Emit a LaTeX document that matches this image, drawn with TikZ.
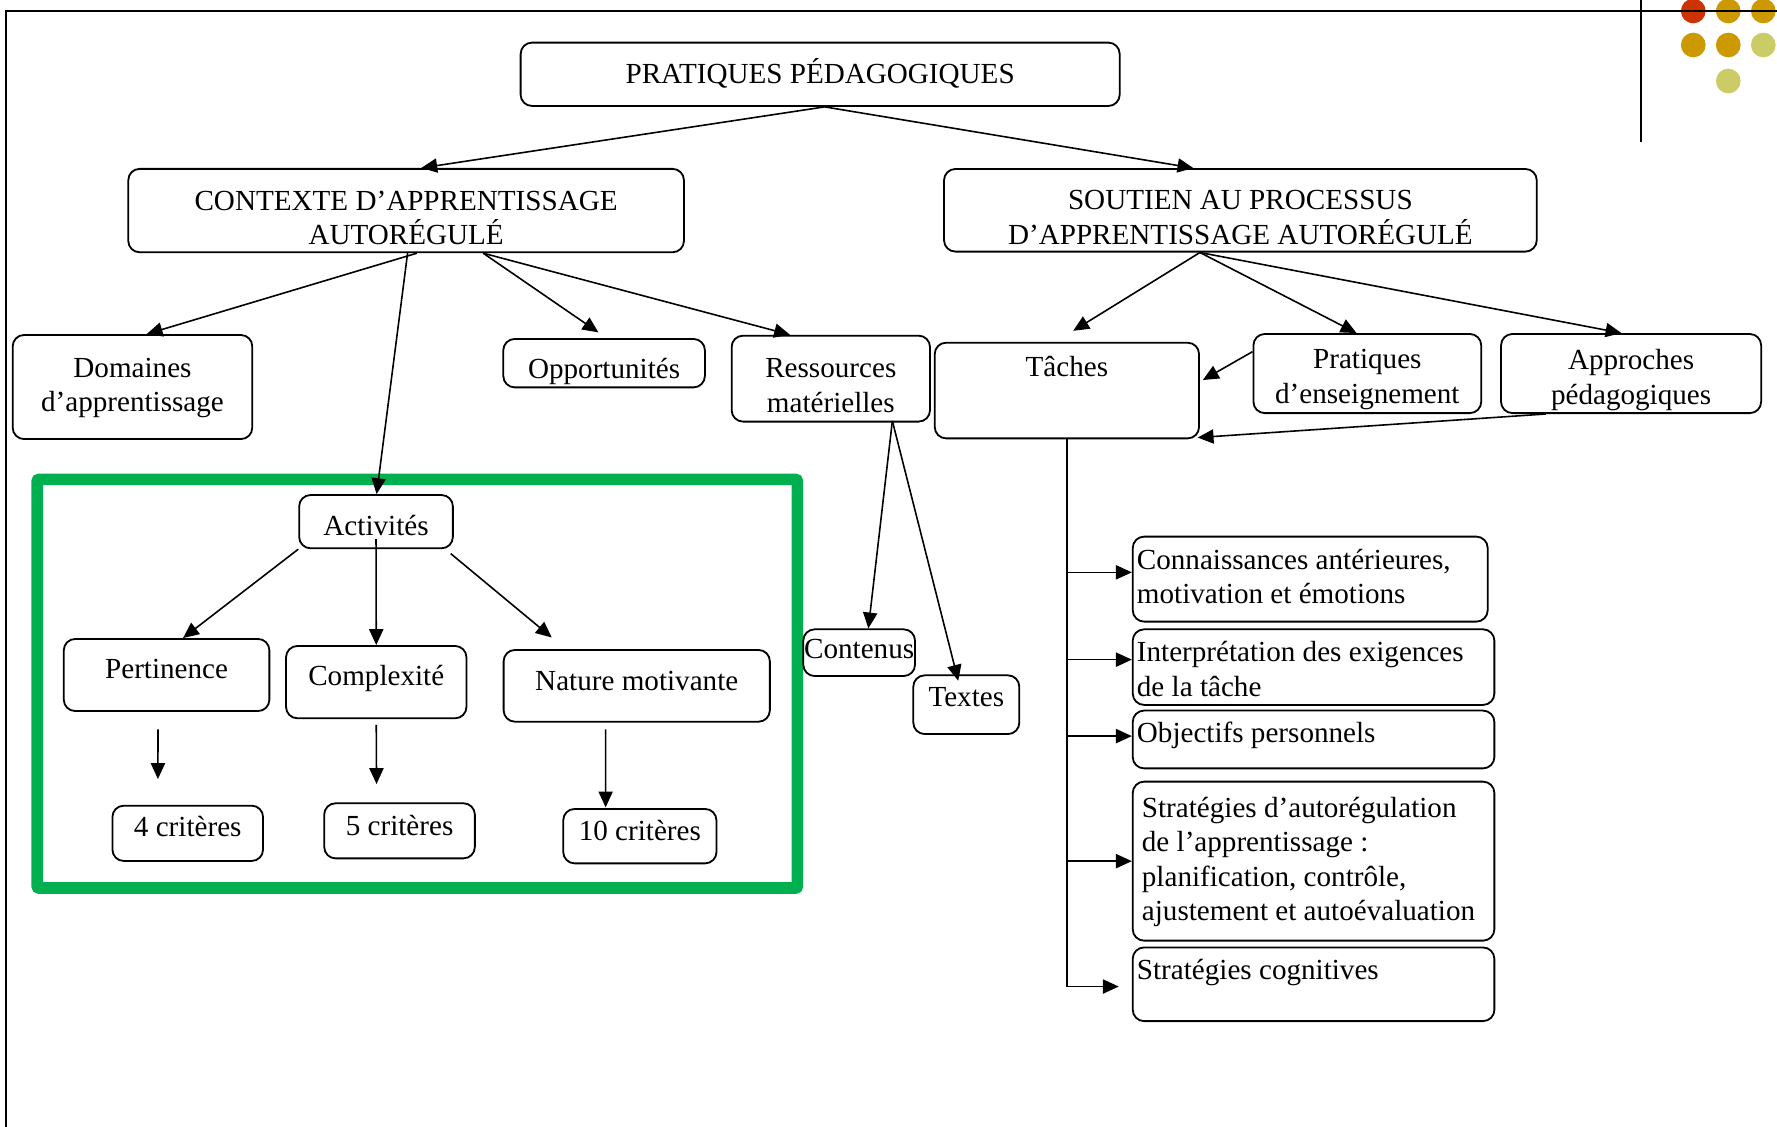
\documentclass[tikz,border=0pt]{standalone}
\usepackage{fontspec}
\setmainfont{Liberation Serif}
\usetikzlibrary{arrows.meta,calc}
\definecolor{dred}{HTML}{CC3300}
\definecolor{dorange}{HTML}{CC9900}
\definecolor{dlight}{HTML}{CCCC66}
\definecolor{gframe}{HTML}{00B050}
\newcommand{\myfs}{\fontsize{25.7}{30.5}\selectfont}
\begin{document}
\begin{tikzpicture}[x=1pt,y=-1pt,
  bx/.style={draw, line width=1.6pt, rounded corners=10pt, inner sep=0pt},
  tx/.style={inner sep=0pt, font=\myfs, align=center},
  txt/.style={inner sep=0pt, font=\myfs, align=left, anchor=north west},
  arr/.style={line width=1.4pt, -{Triangle[length=14pt,width=12.5pt]}},
  ln/.style={line width=1.8pt},
  dot/.style={circle, inner sep=0pt, minimum size=21.8pt}]

\useasboundingbox[fill=white] (0,0) rectangle (1568,994);

% decorative dots
\node[dot, fill=dred]    (d1) at (1494.1,9.7) {};
\node[dot, fill=dorange] (d2) at (1525,9.7) {};
\node[dot, fill=dorange] (d3) at (1555.9,9.7) {};
\node[dot, fill=dorange] (d4) at (1494.1,39.7) {};
\node[dot, fill=dorange] (d5) at (1525,39.7) {};
\node[dot, fill=dlight]  (d6) at (1555.9,39.7) {};
\node[dot, fill=dlight]  (d7) at (1525,71.5) {};

% page frame lines
\draw[ln] (5,994) -- (5,9.7) -- (1568,9.7);
\draw[ln] (1448,0) -- (1448,125);

% green frame
\draw[gframe, line width=10.3pt, rounded corners=2pt] (32.8,423) rectangle (703.6,783.6);

% boxes
\node[bx, minimum width=528.6pt, minimum height=55.9pt] (prat) at (723.7,65.55) {};
\node[bx, minimum width=490.3pt, minimum height=73.6pt] (ctx) at (358.35,185.8) {};
\node[bx, minimum width=523pt, minimum height=72.9pt] (sout) at (1094.5,185.55) {};
\node[bx, minimum width=211.4pt, minimum height=91.8pt] (dom) at (116.9,341.5) {};
\node[bx, minimum width=177.9pt, minimum height=42.7pt] (opp) at (533.05,320.45) {};
\node[bx, minimum width=175pt, minimum height=75.8pt] (res) at (733.1,334.1) {};
\node[bx, minimum width=233.2pt, minimum height=84.4pt] (tac) at (941.4,344.6) {};
\node[bx, minimum width=201pt, minimum height=69.8pt] (pra) at (1206.5,329.6) {};
\node[bx, minimum width=229.5pt, minimum height=69.8pt] (app) at (1439.25,329.6) {};

\node[bx, minimum width=135.6pt, minimum height=47pt] (act) at (331.8,460.3) {};
\node[bx, minimum width=181.4pt, minimum height=63.6pt] (per) at (147,595.6) {};
\node[bx, minimum width=159.2pt, minimum height=63.8pt] (cpx) at (332,601.9) {};
\node[bx, minimum width=234.9pt, minimum height=63.3pt] (nat) at (561.85,605.15) {};
\node[bx, minimum width=132.9pt, minimum height=48.8pt] (c4) at (165.65,735.3) {};
\node[bx, minimum width=132.9pt, minimum height=48.6pt] (c5) at (352.55,733.1) {};
\node[bx, minimum width=135.2pt, minimum height=48pt] (c10) at (564.6,737.8) {};

\node[bx, minimum width=98.6pt, minimum height=41.2pt] (cont) at (758.1,575.9) {};
\node[bx, minimum width=93.5pt, minimum height=51.8pt] (tex) at (852.65,621.8) {};

\node[bx, minimum width=313.2pt, minimum height=75pt] (conn) at (1156.1,511) {};
\node[bx, minimum width=319.1pt, minimum height=66.7pt] (intp) at (1159.05,588.65) {};
\node[bx, minimum width=319.1pt, minimum height=51pt] (obj) at (1159.05,652.5) {};
\node[bx, minimum width=319.1pt, minimum height=140.3pt] (strt) at (1159.05,759.85) {};
\node[bx, minimum width=319.1pt, minimum height=65pt] (cog) at (1159.05,868.5) {};

% texts
\node[tx] (pratt) at ([yshift=0.5pt]prat.center) {PRATIQUES PÉDAGOGIQUES};
\node[tx] (ctxt) at ([yshift=-6.5pt]ctx.center) {CONTEXTE D’APPRENTISSAGE\\AUTORÉGULÉ};
\node[tx] (soutt) at ([yshift=-6.5pt]sout.center) {SOUTIEN AU PROCESSUS\\D’APPRENTISSAGE AUTORÉGULÉ};
\node[tx] (domt) at ([yshift=-1pt]dom.center) {Domaines\\d’apprentissage};
\node[tx] (oppt) at ([yshift=-7pt]opp.center) {Opportunités};
\node[tx] (rest) at ([yshift=-6pt]res.center) {Ressources\\matérielles};
\node[tx, anchor=base] (tact) at (941.4,332) {Tâches};
\node[tx] (prat2) at ([yshift=-5.5pt]pra.center) {Pratiques\\d’enseignement};
\node[tx] (appt) at ([yshift=-5.5pt]app.center) {Approches\\pédagogiques};
\node[tx] (actt) at ([yshift=-3pt]act.center) {Activités};
\node[tx] (pert) at ([yshift=5pt]per.center) {Pertinence};
\node[tx] (cpxt) at ([yshift=3pt]cpx.center) {Complexité};
\node[tx] (natt) at ([yshift=4pt]nat.center) {Nature motivante};
\node[tx] (c4t) at ([yshift=6pt]c4.center) {4 critères};
\node[tx] (c5t) at ([yshift=5pt]c5.center) {5 critères};
\node[tx] (c10t) at ([yshift=5pt]c10.center) {10 critères};
\node[tx] (contt) at ([yshift=3pt]cont.center) {Contenus};
\node[tx] (text) at ([yshift=7pt]tex.center) {Textes};

\node[txt] (connt) at (1003,480.85) {\strut Connaissances antérieures,\\motivation et émotions};
\node[txt] (intpt) at (1003,562.15) {\strut Interprétation des exigences\\de la tâche};
\node[txt] (objt) at (1003,633.25) {\strut Objectifs personnels};
\node[txt] (strtt) at (1007.4,699.55) {\strut Stratégies d’autorégulation\\de l’apprentissage :\\planification, contrôle,\\ajustement et autoévaluation};
\node[txt] (cogt) at (1003,842.65) {\strut Stratégies cognitives};

% connectors
\draw[arr] ([xshift=4pt]prat.south) -- ([xshift=13.4pt]ctx.north);
\draw[arr] ([xshift=4pt]prat.south) -- ([xshift=-41.5pt]sout.north);

\draw[arr] ([xshift=9.5pt]ctx.south) -- ([xshift=12.5pt]dom.north);
\draw[arr] ([xshift=1.3pt]ctx.south) -- ([xshift=0.5pt]act.north);
\draw[arr] ([xshift=68pt]ctx.south) -- ([xshift=-5pt,yshift=5pt]opp.north);
\draw[arr] ([xshift=68pt]ctx.south) -- ([xshift=-36pt]res.north);

\draw[arr] ([xshift=-35.7pt]sout.south) -- ([xshift=5.6pt,yshift=9.7pt]tac.north);
\draw[arr] ([xshift=-35.7pt]sout.south) -- ([xshift=-9.5pt]pra.north);
\draw[arr] ([xshift=-35.7pt]sout.south) -- ([xshift=-8.5pt]app.north);
\draw[arr] ([yshift=19.3pt]pra.west) -- ([xshift=2.6pt,yshift=9.3pt]tac.east);
\draw[arr] ([xshift=-75.3pt]app.south) -- ([xshift=-2pt,yshift=1.5pt]tac.south east);

\draw[arr] ([xshift=54.3pt,yshift=1.4pt]res.south) -- ([xshift=8.1pt]cont.north);
\draw[arr] ([xshift=54.3pt,yshift=1.4pt]res.south) -- ([xshift=-7.1pt,yshift=-5.6pt]tex.north);

\draw[arr] (act.south west) -- ([xshift=14.5pt]per.north);
\draw[arr] ([yshift=9pt]act.south) -- (cpx.north);
\draw[arr] ([xshift=-2.7pt,yshift=-3.9pt]act.south east) -- ([xshift=-75pt,yshift=10.2pt]nat.north);

\coordinate (p4a) at ([xshift=-7.6pt,yshift=-15.3pt]per.south);
\coordinate (p4b) at ([xshift=-26.3pt,yshift=22.7pt]c4.north);
\draw[arr] (p4a) -- (p4b);
\coordinate (p5a) at ([yshift=-5pt]cpx.south);
\coordinate (p5b) at ([xshift=-20.3pt,yshift=16.2pt]c5.north);
\draw[arr] (p5a) -- (p5b);
\draw[arr] ([xshift=-27.5pt,yshift=-5.9pt]nat.south) -- ([xshift=-30.2pt,yshift=0.6pt]c10.north);

% right-hand trunk
\coordinate (cogin) at ([xshift=-11.5pt,yshift=-2pt]cog.west);
\draw[arr] (tac.south) |- (cogin);
\draw[arr] ([yshift=6pt]conn.west -| tac.south) -- ([yshift=6pt]conn.west);
\draw[arr] ([yshift=6.6pt]intp.west -| tac.south) -- ([yshift=6.6pt]intp.west);
\draw[arr] ([yshift=3pt]obj.west -| tac.south) -- ([yshift=3pt]obj.west);
\draw[arr] (strt.west -| tac.south) -- (strt.west);
\end{tikzpicture}
\end{document}
